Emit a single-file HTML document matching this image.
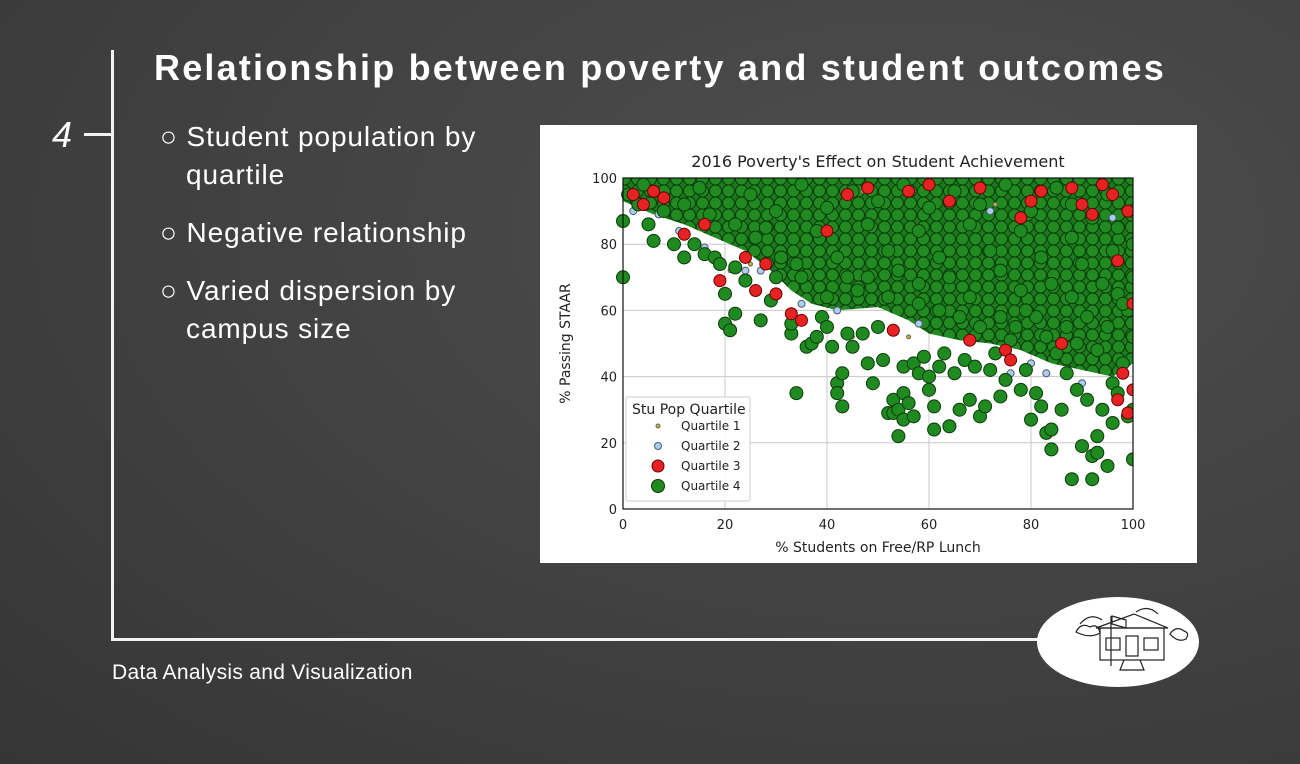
<!DOCTYPE html>
<html><head><meta charset="utf-8">
<style>
html,body{margin:0;padding:0}
body{width:1300px;height:764px;overflow:hidden;position:relative;font-family:"Liberation Sans",sans-serif;
background:radial-gradient(ellipse at 70% 30%,#4e4e4e 0%,#424242 50%,#353535 100%);}
.t{position:absolute;color:#fff;}
</style></head><body>
<div style="position:absolute;left:0;top:0;width:1300px;height:764px">
<div style="position:absolute;left:111px;top:50px;width:3px;height:591px;background:#f2f2f2"></div>
<div style="position:absolute;left:111px;top:638px;width:930px;height:3px;background:#f2f2f2"></div>
<div style="position:absolute;left:84px;top:133px;width:28px;height:3px;background:#f2f2f2"></div>
<div class="t" style="left:52px;top:114px;font-size:36px;font-style:italic">4</div>
<div class="t" style="left:154px;top:47px;font-size:36px;font-weight:bold;letter-spacing:2.2px">Relationship between poverty and student outcomes</div>
<div class="t" style="left:160px;top:118px;font-size:28px;line-height:38px;letter-spacing:0.9px">
<div>○ Student population by<br>&nbsp;&nbsp;&nbsp;quartile</div>
<div style="margin-top:20px">○ Negative relationship</div>
<div style="margin-top:20px">○ Varied dispersion by<br>&nbsp;&nbsp;&nbsp;campus size</div>
</div>
<div class="t" style="left:112px;top:661px;font-size:21px;letter-spacing:0.3px">Data Analysis and Visualization</div>
<svg style="position:absolute;left:1036px;top:596px" width="164" height="92">
<ellipse cx="82" cy="46" rx="81" ry="45" fill="#fff"/>
<g stroke="#222" fill="none" stroke-width="1.2">
<path d="M60 32 L98 18 L132 32 Z"/><rect x="64" y="32" width="64" height="32"/>
<rect x="70" y="42" width="14" height="12"/><rect x="108" y="42" width="14" height="12"/>
<rect x="90" y="40" width="12" height="20"/><path d="M88 64 L84 74 L108 74 L104 64"/>
<line x1="75" y1="20" x2="75" y2="70"/><path d="M76 20 L90 24 L90 32 L76 28 Z"/>
<path d="M40 36 q5 -10 14 -5 q8 -4 10 6 q-10 6 -24 -1z"/><path d="M134 38 q6 -9 14 -3 q6 2 2 8 q-8 4 -16 -5z"/>
<path d="M44 28 q10 -12 22 -4"/><path d="M100 16 q12 -8 22 2"/>
</g></svg>
</div>

<svg style="position:absolute;left:540px;top:125px" width="657" height="438">
<defs>
<pattern id="dots" width="13" height="12" patternUnits="userSpaceOnUse">
<rect width="13" height="12" fill="#1c7a1c"/>
<circle cx="6.5" cy="6" r="6" fill="#218a21" stroke="#0b3a0b" stroke-width="1"/>
</pattern>
</defs>
<rect x="0" y="0" width="657" height="438" fill="#fff"/>
<g id="grid"></g>
<g id="core"></g>
<g id="pts"></g>
<g id="axes"></g>
</svg>

<script>
const xTicks=[0,20,40,60,80,100];
const yTicks=[0,20,40,60,80,100];
// dense cloud outline (data units)
const coreOutline=[[0,100],[0,93],[6,89],[12,86],[18,82],[24,78],[29,72],[33,66],[37,62],[42,60],[50,61],[56,57],[60,53],[66,51],[72,50],[78,48],[84,44],[90,42],[96,40],[100,44],[100,100]];
const q4=[[0,87],[0,70],[1,95],[3,92],[5,86],[6,81],[8,90],[10,80],[12,76],[14,80],[16,77],[18,76],[19,74],[20,65],[22,73],[20,56],[21,54],[22,59],[24,69],[27,57],[29,63],[30,70],[33,53],[33,56],[34,35],[36,49],[37,50],[38,52],[39,58],[40,55],[41,49],[42,38],[42,35],[43,41],[43,31],[44,53],[45,49],[47,53],[48,44],[49,38],[50,55],[51,45],[52,29],[53,29],[53,33],[54,22],[54,30],[55,27],[55,35],[55,43],[56,32],[57,28],[57,44],[58,41],[59,46],[60,36],[60,40],[61,31],[61,24],[62,43],[63,47],[64,25],[65,41],[66,30],[67,45],[68,33],[69,43],[70,28],[71,31],[72,42],[73,47],[74,34],[75,39],[76,51],[78,36],[79,42],[80,27],[81,35],[82,31],[83,23],[84,18],[84,24],[86,30],[87,41],[88,9],[89,36],[90,19],[91,33],[92,9],[92,16],[93,22],[93,17],[94,30],[95,13],[96,26],[96,38],[97,35],[98,44],[99,28],[100,15],[100,30],[100,52],[99,60],[97,65],[95,55],[93,48],[91,58],[89,50],[87,55],[85,47],[83,52],[81,58],[79,60],[77,55],[74,58],[70,55],[66,58],[62,60],[58,62],[52,64],[46,66],[40,64],[35,70],[31,76],[26,82],[22,86],[17,89],[12,92],[8,96],[4,98],[15,97],[25,95],[35,98],[45,96],[55,98],[65,96],[75,98],[85,97],[95,95],[100,90],[100,80],[100,70],[97,85],[92,88],[88,92],[80,90],[70,92],[60,91],[50,93],[40,91],[30,90],[28,85],[38,84],[48,86],[58,84],[68,86],[78,84],[88,82],[96,78],[90,74],[82,76],[72,78],[62,76],[52,78],[42,76],[34,74],[44,70],[54,72],[64,70],[74,72],[84,68],[94,68],[98,62],[88,64],[78,66],[68,64],[58,68],[48,70]];
const q3=[[2,95],[4,92],[6,96],[8,94],[12,83],[16,86],[19,69],[24,76],[26,66],[28,74],[30,65],[33,59],[35,57],[40,84],[44,95],[48,97],[53,54],[56,96],[60,98],[64,93],[68,51],[70,97],[75,48],[76,45],[78,88],[80,93],[82,96],[86,50],[88,97],[90,92],[92,89],[94,98],[96,95],[97,33],[98,41],[99,29],[100,36],[99,90],[97,75],[100,62]];
const q2=[[2,90],[7,89],[11,84],[16,79],[24,72],[27,72],[35,62],[42,60],[45,97],[58,56],[63,47],[72,90],[76,41],[80,44],[83,41],[90,38],[96,88]];
const q1=[[21,72],[25,74],[40,58],[45,52],[47,96],[56,52],[73,92]];

const ox=623-540, oy=509-125, pw=510, ph=331;
const sx=v=>ox+v/100*pw, sy=v=>oy-v/100*ph;
const NS='http://www.w3.org/2000/svg';
function mk(tag,attrs,parent){const e=document.createElementNS(NS,tag);for(const k in attrs)e.setAttribute(k,attrs[k]);parent.appendChild(e);return e;}
const grid=document.getElementById('grid'),axes=document.getElementById('axes'),pts=document.getElementById('pts'),core=document.getElementById('core');
xTicks.forEach(t=>{const l=mk('line',{x1:sx(t),x2:sx(t),y1:sy(0),y2:sy(100),stroke:'#c8c8c8','stroke-width':1},grid);

const tx=mk('text',{x:sx(t),y:sy(0)+20,'text-anchor':'middle','font-size':13,fill:'#222','font-family':'DejaVu Sans, sans-serif'},axes);tx.textContent=t;
});
yTicks.forEach(t=>{const l=mk('line',{x1:sx(0),x2:sx(100),y1:sy(t),y2:sy(t),stroke:'#c8c8c8','stroke-width':1},grid);

const tx=mk('text',{x:sx(0)-6,y:sy(t)+5,'text-anchor':'end','font-size':13,fill:'#222','font-family':'DejaVu Sans, sans-serif'},axes);tx.textContent=t;
});
const poly=mk('polygon',{points:coreOutline.map(p=>sx(p[0])+','+sy(p[1])).join(' '),fill:'url(#dots)'},core);

function series(arr,r,fill,stroke,name){arr.forEach(p=>{const c=mk('circle',{cx:sx(p[0]),cy:sy(p[1]),r:r,fill:fill,stroke:stroke,'stroke-width':1},pts);
});}
series(q1,2,'#c8b040','#665','point-q1');
series(q2,3.5,'#a8d0ec','#557','point-q2');
series(q4,6.5,'#1f8a1f','#0b3a0b','point-q4');
series(q3,6,'#e62222','#600','point-q3');
const clip=mk('rect',{x:0,y:0,width:657,height:sy(100),fill:'#fff'},axes);
const clip2=mk('rect',{x:sx(100)+0.5,y:0,width:657-sx(100),height:438,fill:'#fff'},axes);
axes.insertBefore(clip2,axes.firstChild);axes.insertBefore(clip,axes.firstChild);
const fr=mk('rect',{x:sx(0),y:sy(100),width:pw,height:ph,fill:'none',stroke:'#111','stroke-width':1.2},axes);

const ti=mk('text',{x:(sx(0)+sx(100))/2,y:42,'text-anchor':'middle','font-size':16,fill:'#222','font-family':'DejaVu Sans, sans-serif'},axes);ti.textContent="2016 Poverty's Effect on Student Achievement";

const xl=mk('text',{x:(sx(0)+sx(100))/2,y:427,'text-anchor':'middle','font-size':14,fill:'#222','font-family':'DejaVu Sans, sans-serif'},axes);xl.textContent="% Students on Free/RP Lunch";

const yl=mk('text',{x:0,y:0,transform:'translate(30,'+(sy(50))+') rotate(-90)','text-anchor':'middle','font-size':14,fill:'#222','font-family':'DejaVu Sans, sans-serif'},axes);yl.textContent="% Passing STAAR";

// legend
const lg=mk('g',{},axes);
mk('rect',{x:ox+3,y:272,width:124,height:104,fill:'#fff','fill-opacity':0.9,stroke:'#ccc',rx:2},lg);
const lt=mk('text',{x:ox+9,y:289,'font-size':14,fill:'#222','font-family':'DejaVu Sans, sans-serif'},lg);lt.textContent='Stu Pop Quartile';

const leg=[['Quartile 1',2,'#c8b040','#665'],['Quartile 2',3.5,'#a8d0ec','#557'],['Quartile 3',6,'#e62222','#600'],['Quartile 4',6.5,'#1f8a1f','#0b3a0b']];
leg.forEach((L,i)=>{const y=305+i*20;mk('circle',{cx:ox+35,cy:y-4,r:L[1],fill:L[2],stroke:L[3]},lg);
const t=mk('text',{x:ox+58,y:y,'font-size':12,fill:'#222','font-family':'DejaVu Sans, sans-serif'},lg);t.textContent=L[0];
});
</script>
</body></html>
